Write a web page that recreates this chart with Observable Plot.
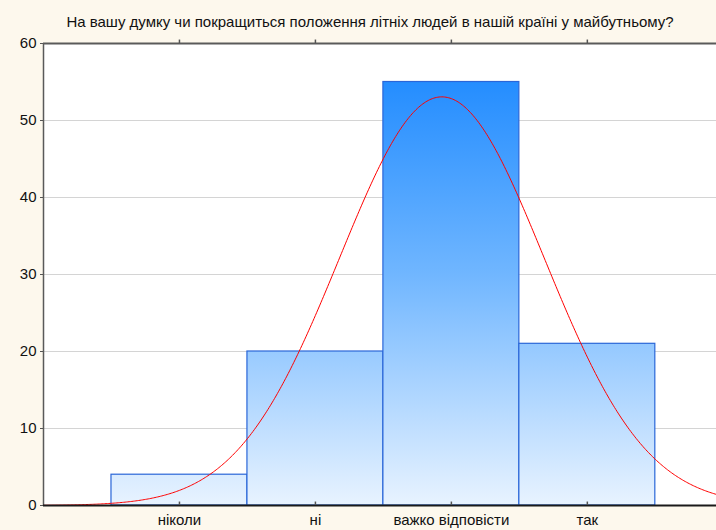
<!DOCTYPE html>
<html>
<head>
<meta charset="utf-8">
<script src="https://cdn.jsdelivr.net/npm/d3@7"></script>
<script src="https://cdn.jsdelivr.net/npm/@observablehq/plot@0.6"></script>
<style>
  html, body { margin: 0; padding: 0; background: #fdf8ed; }
  #chart svg { display: block; }
</style>
</head>
<body>
<div id="chart"></div>
<script>
const title = "На вашу думку чи покращиться положення літніх людей в нашій країні у майбутньому?";
const categories = ["ніколи", "ні", "важко відповісти", "так"];
const codes = [1, 2, 3, 4];
const counts = [4, 20, 55, 21];
const yTicks = [0, 10, 20, 30, 40, 50, 60];

const data = codes.map((c, i) => ({code: c, label: categories[i], count: counts[i]}));

// fitted normal curve derived from the histogram counts
const N = d3.sum(counts);
const mean = d3.sum(data, d => d.code * d.count) / N;
const sd = Math.sqrt(d3.sum(data, d => d.count * (d.code - mean) ** 2) / N);
const xDomain = [0, 4.95];
const curve = d3.range(xDomain[0], xDomain[1] + 0.001, 0.01).map(x => ({
  x, y: N * 1 / (sd * Math.sqrt(2 * Math.PI)) * Math.exp(-0.5 * ((x - mean) / sd) ** 2)
}));

const chart = Plot.plot({
  width: 716,
  height: 530,
  marginTop: 43,
  marginLeft: 43,
  marginRight: 0,
  marginBottom: 25,
  style: {background: "#fdf8ed", fontFamily: "Liberation Sans, Arial, sans-serif", fontSize: "13px", color: "#111"},
  x: {domain: xDomain},
  y: {domain: [0, 60]},
  marks: [
    Plot.frame({fill: "white", stroke: "none"}),
    Plot.gridY([10, 20, 30, 40, 50], {stroke: "#d4d4d4", strokeOpacity: 1}),
    Plot.rect(data, {x1: d => d.code - 0.5, x2: d => d.code + 0.5, y1: 0, y2: "count", fill: "url(#barGrad)", stroke: "#2a66d8", strokeWidth: 1.2}),
    Plot.line(curve, {x: "x", y: "y", stroke: "#ff0000", strokeWidth: 1}),
    Plot.ruleY([60], {stroke: "#5a5a5a", strokeWidth: 2}),
    Plot.ruleX([0], {stroke: "#5a5a5a", strokeWidth: 1.5}),
    Plot.ruleY([0], {stroke: "#1a1a1a", strokeWidth: 2}),
    Plot.ruleX(codes, {y1: 0, y2: 0.45, stroke: "#555", strokeWidth: 1.5}),
    Plot.ruleX(codes, {y1: 60, y2: 60.45, stroke: "#555", strokeWidth: 1.5, clip: false}),
    Plot.axisY({ticks: yTicks, tickSize: 3, tickPadding: 4, tickFormat: d => d, label: null, fontSize: 15, stroke: "#555"}),
    Plot.axisX({ticks: codes, tickSize: 0, tickPadding: 9, tickFormat: (d, i) => categories[codes.indexOf(d)], label: null, fontSize: 15}),
    Plot.text([title], {frameAnchor: "top", lineAnchor: "middle", dy: -21, dx: -10, fontSize: 15, fill: "#111"})
  ]
});

const yScale = chart.scale("y");
const ns = "http://www.w3.org/2000/svg";
const defs = document.createElementNS(ns, "defs");
const grad = document.createElementNS(ns, "linearGradient");
grad.setAttribute("id", "barGrad");
grad.setAttribute("gradientUnits", "userSpaceOnUse");
grad.setAttribute("x1", "0"); grad.setAttribute("x2", "0");
grad.setAttribute("y1", String(yScale.apply(60)));
grad.setAttribute("y2", String(yScale.apply(0)));
[["0%", "#1585ff"], ["50%", "#70b6ff"], ["100%", "#e8f3ff"]].forEach(([o, c]) => {
  const s = document.createElementNS(ns, "stop");
  s.setAttribute("offset", o); s.setAttribute("stop-color", c);
  grad.appendChild(s);
});
defs.appendChild(grad);
chart.insertBefore(defs, chart.firstChild);
document.getElementById("chart").appendChild(chart);
</script>
</body>
</html>
